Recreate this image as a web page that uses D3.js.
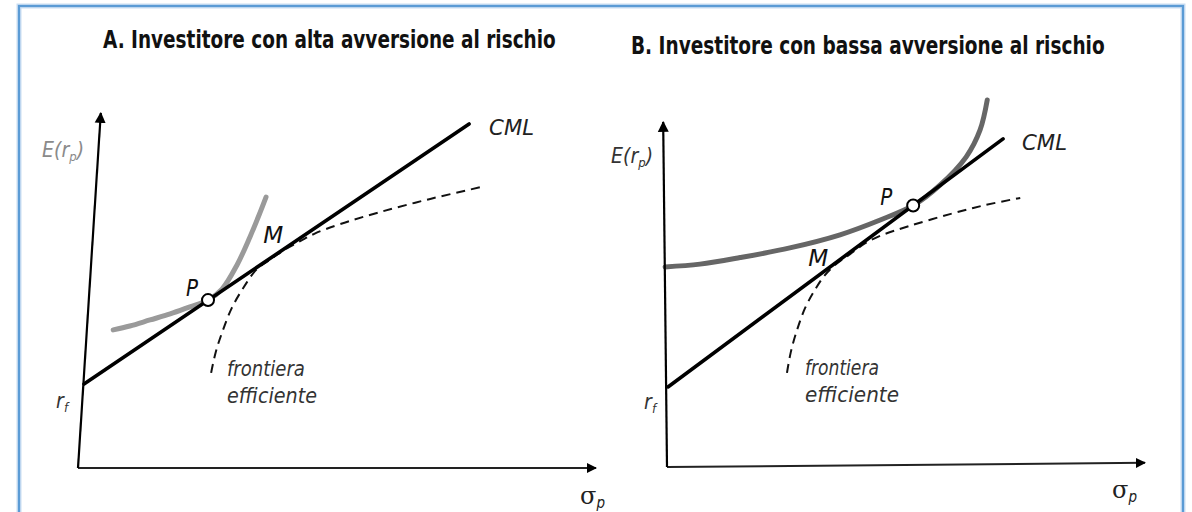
<!DOCTYPE html>
<html>
<head>
<meta charset="utf-8">
<script src="https://cdn.jsdelivr.net/npm/d3@7"></script>
<style>
  html, body { margin: 0; padding: 0; background: #ffffff; }
  svg { display: block; }
  .cond { font-family: "Liberation Sans Narrow", "Arial Narrow", "DejaVu Sans Condensed", "DejaVu Sans", sans-serif; }
</style>
</head>
<body>
<svg id="chart" width="1192" height="512"></svg>
<script>
// ---- data (chart units: sigma on x, expected return on y, 0..100) ----
const panelTitles = [
  "A. Investitore con alta avversione al rischio",
  "B. Investitore con bassa avversione al rischio"
];

// Panel A – high risk aversion
const riskFreeA   = [1.16, 23.66];
const cmlEndA     = [75.5, 96.9];
const portfolioA  = [25.1, 47.3];
const marketA     = [40.0, 61.6];
const indifferenceA = [[6.8,38.9],[10.0,40.0],[13.9,41.7],[17.8,43.4],[21.6,45.4],[25.1,47.3],
                       [27.8,50.4],[30.7,57.2],[33.2,65.1],[35.1,71.8],[36.3,76.3]];
const frontierA = [[25.7,26.8],[26.6,32.7],[28.0,38.9],[29.7,45.1],[31.9,50.7],[34.4,55.8],[37.1,58.7],
                   [40.0,61.6],[42.9,63.9],[45.8,66.1],[50.6,68.7],[58.3,72.1],[68.0,75.8],[78.0,79.2]];
const axisXEndA = [100, 0];
const axisYEndA = [4.4, 100];

// Panel B – low risk aversion
const riskFreeB   = [0.2, 23.2];
const cmlEndB     = [70.3, 95.1];
const portfolioB  = [51.5, 75.8];
const marketB     = [35.2, 58.6];
const indifferenceB = [[-0.4,58.0],[6.9,58.8],[15.3,60.7],[25.7,63.5],[36.2,67.3],[44.6,71.6],
                       [51.5,75.8],[57.1,81.7],[62.6,89.9],[65.5,97.7],[67.0,106.4]];
const frontierB = [[25.1,27.3],[25.9,33.3],[27.2,39.7],[28.9,46.1],[30.8,51.0],[32.9,55.4],[35.2,58.6],
                   [38.3,61.7],[41.4,64.8],[44.6,67.0],[50.8,69.9],[59.2,73.3],[66.5,75.9],[73.9,78.0]];
const axisXEndB = [100, 1.2];
const axisYEndB = [-0.8, 100];

const panels = [
  { title: panelTitles[0], rf: riskFreeA, cmlEnd: cmlEndA, P: portfolioA, M: marketA,
    indiff: indifferenceA, frontier: frontierA, xEnd: axisXEndA, yEnd: axisYEndA,
    x: d3.scaleLinear().domain([0, 100]).range([78, 596]),
    y: d3.scaleLinear().domain([0, 100]).range([468, 113]),
    titleX: 103, titleY: 48, titleW: 453,
    pOff: [-16, -12], mOff: [-12, -14], cmlOff: [20, 3],
    frontLabel: [227, 376, 403], frontW: [78, 90],
    yLabelRight: 84, yLabelY: 157, rfLabelRight: 68, rfLabelY: 408,
    sigmaX: 580, sigmaY: 504, yLabelFill: "#8a8a8a", curveStroke: "#9a9a9a" },
  { title: panelTitles[1], rf: riskFreeB, cmlEnd: cmlEndB, P: portfolioB, M: marketB,
    indiff: indifferenceB, frontier: frontierB, xEnd: axisXEndB, yEnd: axisYEndB,
    x: d3.scaleLinear().domain([0, 100]).range([667, 1145]),
    y: d3.scaleLinear().domain([0, 100]).range([467, 122]),
    titleX: 631, titleY: 54, titleW: 474,
    pOff: [-27, -9], mOff: [-17, -7], cmlOff: [19, 3],
    frontLabel: [805, 375, 402], frontW: [74, 94],
    yLabelRight: 653, yLabelY: 163, rfLabelRight: 656, rfLabelY: 409,
    sigmaX: 1112, sigmaY: 498, yLabelFill: "#333", curveStroke: "#666" }
];

const svg = d3.select("#chart");

// squeeze a text horizontally so that it spans the given width
function fitWidth(sel, x, y, width) {
  const natural = sel.node().getComputedTextLength();
  sel.attr("x", 0).attr("y", 0)
     .attr("transform", `translate(${x},${y}) scale(${width / natural},1)`);
}

// outer frame
svg.append("rect")
  .attr("x", 19).attr("y", 6).attr("width", 1164).attr("height", 520)
  .attr("fill", "none").attr("stroke", "#c9ddf2").attr("stroke-width", 5);
svg.append("rect")
  .attr("x", 19).attr("y", 6).attr("width", 1164).attr("height", 520)
  .attr("fill", "none").attr("stroke", "#5b9bd5").attr("stroke-width", 2.2);

const defs = svg.append("defs");
defs.append("marker").attr("id", "arrow")
  .attr("viewBox", "0 0 10 10").attr("refX", 9).attr("refY", 5)
  .attr("markerWidth", 5).attr("markerHeight", 5.5).attr("markerUnits", "strokeWidth")
  .attr("orient", "auto")
  .append("path").attr("d", "M0,0 L10,5 L0,10 Z").attr("fill", "#000");

const smooth = d3.curveCatmullRom.alpha(0.5);

panels.forEach(p => {
  const g = svg.append("g");
  const line = d3.line().x(d => p.x(d[0])).y(d => p.y(d[1])).curve(smooth);

  // title
  const t = g.append("text").attr("class", "cond")
    .attr("font-size", 24).attr("font-weight", "bold").attr("fill", "#111")
    .text(p.title);
  fitWidth(t, p.titleX, p.titleY, p.titleW);

  // indifference curve
  g.append("path").datum(p.indiff).attr("d", line)
    .attr("fill", "none").attr("stroke", p.curveStroke).attr("stroke-width", 5)
    .attr("stroke-linecap", "round");

  // efficient frontier
  g.append("path").datum(p.frontier).attr("d", line)
    .attr("fill", "none").attr("stroke", "#111").attr("stroke-width", 2)
    .attr("stroke-dasharray", "9,6");

  // capital market line
  g.append("line")
    .attr("x1", p.x(p.rf[0])).attr("y1", p.y(p.rf[1]))
    .attr("x2", p.x(p.cmlEnd[0])).attr("y2", p.y(p.cmlEnd[1]))
    .attr("stroke", "#000").attr("stroke-width", 3.6).attr("stroke-linecap", "round");

  // axes
  g.append("line")
    .attr("x1", p.x(0)).attr("y1", p.y(0))
    .attr("x2", p.x(p.xEnd[0])).attr("y2", p.y(p.xEnd[1]))
    .attr("stroke", "#222").attr("stroke-width", 2).attr("marker-end", "url(#arrow)");
  g.append("line")
    .attr("x1", p.x(0)).attr("y1", p.y(0))
    .attr("x2", p.x(p.yEnd[0])).attr("y2", p.y(p.yEnd[1]))
    .attr("stroke", "#000").attr("stroke-width", 2.2).attr("marker-end", "url(#arrow)");

  // optimal portfolio
  const px = p.x(p.P[0]), py = p.y(p.P[1]);
  g.append("circle").attr("cx", px).attr("cy", py).attr("r", 6)
    .attr("fill", "#fff").attr("stroke", "#000").attr("stroke-width", 2);

  const ital = sel => sel.attr("class", "cond").attr("font-style", "italic");

  const pl = g.append("text").call(ital).attr("dy", "0.35em")
    .attr("font-size", 23).attr("fill", "#111").text("P");
  fitWidth(pl, px + p.pOff[0] - 6, py + p.pOff[1], 12);

  const mx = p.x(p.M[0]), my = p.y(p.M[1]);
  const ml = g.append("text").call(ital).attr("dy", "0.35em")
    .attr("font-size", 23).attr("fill", "#111").text("M");
  fitWidth(ml, mx + p.mOff[0] - 10, my + p.mOff[1], 20);

  const cx = p.x(p.cmlEnd[0]), cy = p.y(p.cmlEnd[1]);
  const cl = g.append("text").call(ital).attr("dy", "0.35em")
    .attr("font-size", 22).attr("fill", "#222").text("CML");
  fitWidth(cl, cx + p.cmlOff[0], cy + p.cmlOff[1], 45);

  // frontier label
  const f1 = g.append("text").call(ital).attr("font-size", 22).attr("fill", "#333").text("frontiera");
  fitWidth(f1, p.frontLabel[0], p.frontLabel[1], p.frontW[0]);
  const f2 = g.append("text").call(ital).attr("font-size", 22).attr("fill", "#333").text("efficiente");
  fitWidth(f2, p.frontLabel[0], p.frontLabel[2], p.frontW[1]);

  // axis labels
  const yl = g.append("text").call(ital)
    .attr("x", p.yLabelRight).attr("y", p.yLabelY).attr("text-anchor", "end")
    .attr("font-size", 21).attr("fill", p.yLabelFill);
  yl.append("tspan").text("E(r");
  yl.append("tspan").attr("font-size", 13).attr("dy", 4).text("p");
  yl.append("tspan").attr("dy", -4).text(")");

  const rl = g.append("text").call(ital)
    .attr("x", p.rfLabelRight).attr("y", p.rfLabelY).attr("text-anchor", "end")
    .attr("font-size", 21).attr("fill", "#333");
  rl.append("tspan").text("r");
  rl.append("tspan").attr("font-size", 13).attr("dy", 4).text("f");

  const sl = g.append("text")
    .attr("x", p.sigmaX).attr("y", p.sigmaY)
    .attr("font-family", "'DejaVu Serif', serif").attr("font-size", 24).attr("fill", "#222");
  sl.append("tspan").text("σ");
  sl.append("tspan").attr("class", "cond").attr("font-style", "italic")
    .attr("font-size", 15).attr("dy", 4).text("p");
});
</script>
</body>
</html>
